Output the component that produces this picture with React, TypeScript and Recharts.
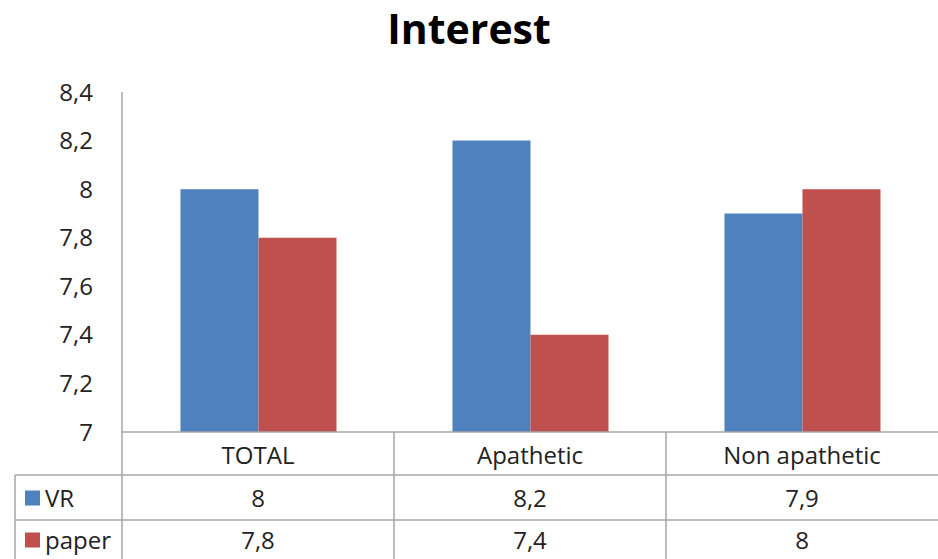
import { BarChart, Bar, XAxis, YAxis } from "recharts";

const categories = ["TOTAL", "Apathetic", "Non apathetic"];
const vrValues = [8, 8.2, 7.9];
const paperValues = [7.8, 7.4, 8];
const yTicks = [7, 7.2, 7.4, 7.6, 7.8, 8, 8.2, 8.4];

const SERIES = [
  { key: "vr", name: "VR", color: "#4F81BD", values: vrValues },
  { key: "paper", name: "paper", color: "#C0504D", values: paperValues },
];

const data = categories.map((c, i) => ({
  name: c,
  vr: vrValues[i],
  paper: paperValues[i],
}));

const W = 938;
const H = 559;
const PLOT_LEFT = 122;
const PLOT_TOP = 92;
const TABLE_H = 127;
const BAND = (W - PLOT_LEFT) / categories.length;
const GRID = "#A6A6A6";
const FONT = "'Open Sans', Lato, sans-serif";
const TXT = 24;

const fmt = (v: number) => String(v).replace(".", ",");

// rows of the data table, relative to the axis line
const ROW1 = 43; // header / VR divider
const ROW2 = 88; // VR / paper divider

function TableTick(props: any) {
  const { x, y, payload, index } = props;
  const i = payload?.index ?? index ?? 0;
  const left = x - BAND / 2;
  const right = x + BAND / 2;
  return (
    <g fontFamily={FONT} fontSize={TXT} fill="#222">
      <text x={x} y={y + 22} textAnchor="middle" dominantBaseline="central">
        {payload.value}
      </text>
      {SERIES.map((s, r) => (
        <text
          key={s.key}
          x={x}
          y={y + (r === 0 ? (ROW1 + ROW2) / 2 : (ROW2 + TABLE_H) / 2)}
          textAnchor="middle"
          dominantBaseline="central"
        >
          {fmt(s.values[i])}
        </text>
      ))}
      {i < categories.length - 1 && (
        <line x1={right} y1={y} x2={right} y2={y + TABLE_H} stroke={GRID} strokeWidth={1.5} />
      )}
      {i === 0 && (
        <g>
          <line x1={left} y1={y} x2={left} y2={y + TABLE_H} stroke={GRID} strokeWidth={1.5} />
          <line x1={15} y1={y + ROW1} x2={W} y2={y + ROW1} stroke={GRID} strokeWidth={1.5} />
          <line x1={15} y1={y + ROW2} x2={W} y2={y + ROW2} stroke={GRID} strokeWidth={1.5} />
          <line x1={15} y1={y + ROW1} x2={15} y2={y + TABLE_H} stroke={GRID} strokeWidth={1.5} />
          {SERIES.map((s, r) => {
            const cy = r === 0 ? (ROW1 + ROW2) / 2 : (ROW2 + TABLE_H) / 2;
            return (
              <g key={s.key}>
                <rect x={25} y={y + cy - 7} width={15} height={15} fill={s.color} />
                <text x={45} y={y + cy} dominantBaseline="central">
                  {s.name}
                </text>
              </g>
            );
          })}
        </g>
      )}
    </g>
  );
}

export default function App() {
  return (
    <div style={{ width: W, height: H, position: "relative", background: "#fff" }}>
      <style>{"body{margin:0}"}</style>
      <div
        style={{
          position: "absolute",
          top: 0,
          left: 0,
          width: W,
          textAlign: "center",
          fontFamily: FONT,
          fontWeight: 700,
          fontSize: 41,
          lineHeight: "56px",
          color: "#000",
        }}
      >
        Interest
      </div>
      <BarChart
        width={W}
        height={H}
        data={data}
        margin={{ top: PLOT_TOP, right: 0, bottom: 0, left: 0 }}
        barCategoryGap="21.5%"
        barGap={0}
      >
        <XAxis
          dataKey="name"
          height={TABLE_H}
          tickSize={0}
          tickMargin={0}
          axisLine={{ stroke: GRID, strokeWidth: 1.5 }}
          tick={<TableTick />}
          interval={0}
        />
        <YAxis
          width={PLOT_LEFT}
          domain={[7, 8.4]}
          ticks={yTicks}
          allowDataOverflow
          tickSize={0}
          tickMargin={29}
          tickFormatter={fmt}
          axisLine={{ stroke: GRID, strokeWidth: 1.5 }}
          tickLine={false}
          tick={{ fill: "#222", fontSize: TXT, fontFamily: FONT }}
        />
        {SERIES.map((s) => (
          <Bar key={s.key} dataKey={s.key} name={s.name} fill={s.color} isAnimationActive={false} />
        ))}
      </BarChart>
    </div>
  );
}
